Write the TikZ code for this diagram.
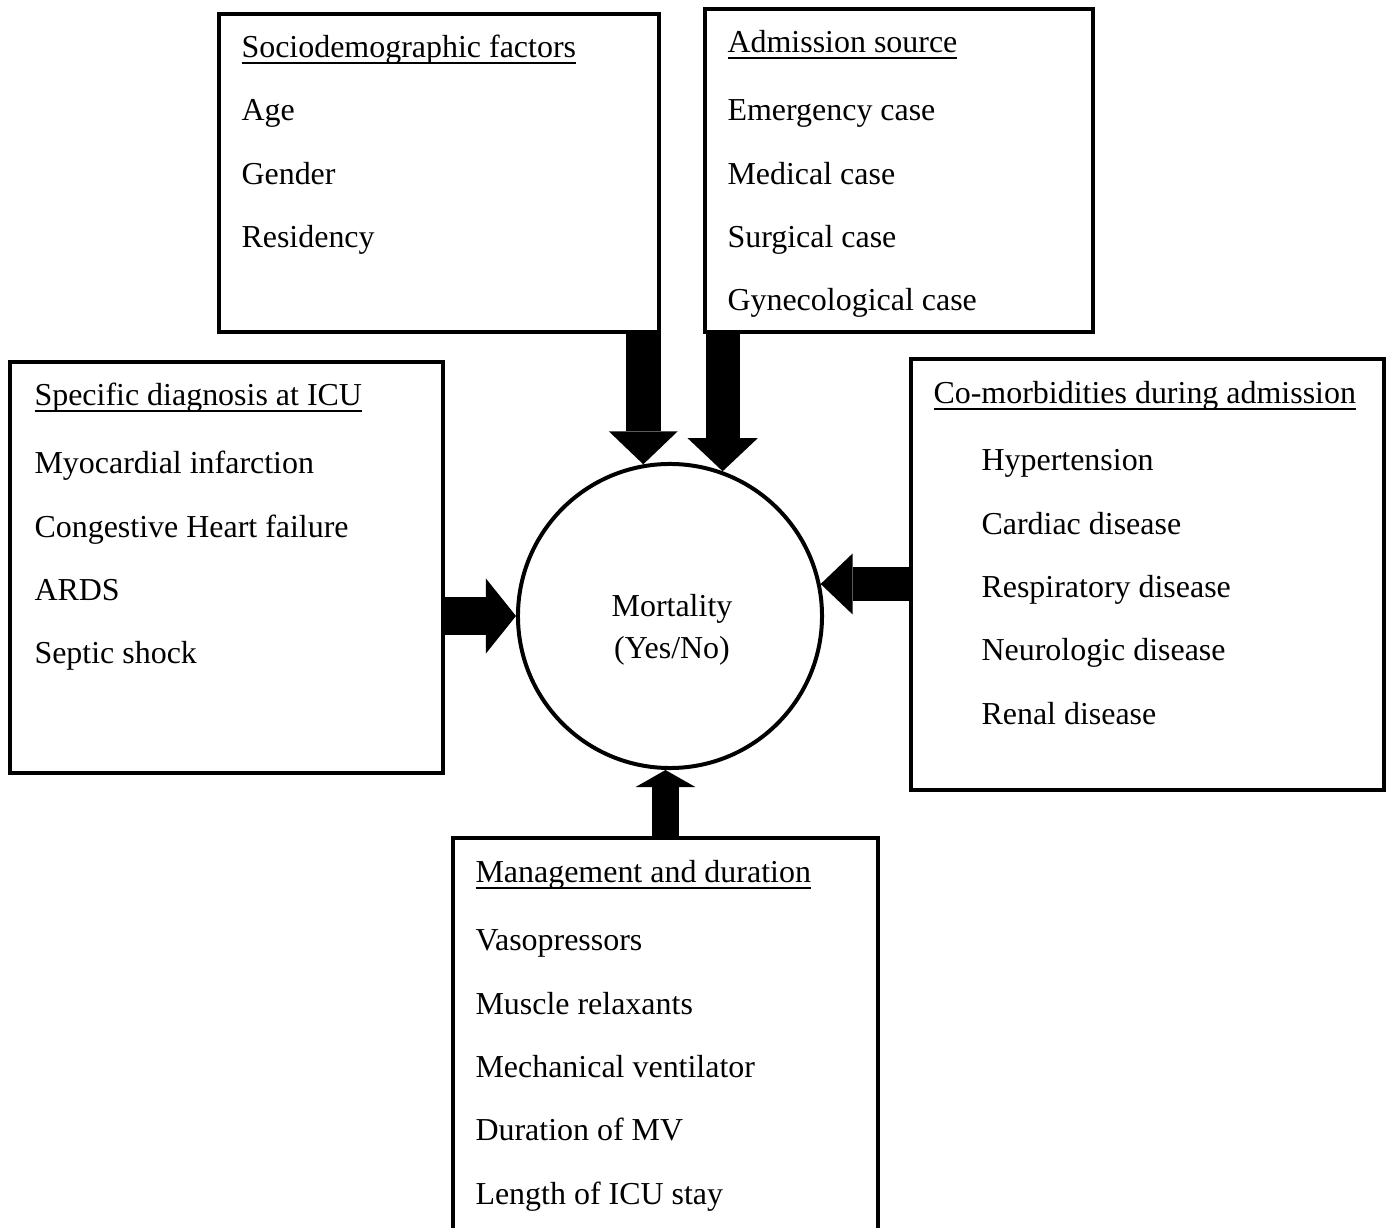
\documentclass[tikz,border=0pt]{standalone}
\usepackage{fontspec}
\setmainfont{Liberation Serif}
\usetikzlibrary{arrows.meta}
\newlength{\ulwd}
\newcommand{\uln}[1]{\settowidth{\ulwd}{#1}\rlap{\rule[-2.3pt]{\ulwd}{0.7pt}}#1}

\begin{document}
\begin{tikzpicture}[x=0.0132cm, y=-0.0132cm,
  every node/.style={font=\fontsize{12pt}{14pt}\selectfont},
  box/.style={draw, line width=1.8pt, rectangle, inner sep=0pt},
  txt/.style={anchor=base west, inner sep=0pt},
  fat/.style n args={3}{line width=#1pt,
    -{Triangle[length=#3pt, width=#2pt, line width=0pt]}}]
  \useasboundingbox (0,0) rectangle (1386,1228);
  % Kästen
  \node[box, minimum width=5.808cm, minimum height=4.198cm] (socio) at (439,173) {};
  \node[box, minimum width=5.122cm, minimum height=4.264cm] (adm) at (899,170.5) {};
  \node[box, minimum width=5.716cm, minimum height=5.425cm] (spec) at (226.5,567.5) {};
  \node[box, minimum width=6.244cm, minimum height=5.689cm] (comorb) at (1147.5,574.5) {};
  \node[box, minimum width=5.61cm, minimum height=5.438cm] (manag) at (665.5,1044) {};
  \node[draw, circle, line width=1.5pt, minimum size=4.013cm, inner sep=0pt] (mort) at (670,616) {};
  \node[align=center, inner sep=0pt, font=\fontsize{12pt}{15.8pt}\selectfont] (mort-t) at (672,630) {Mortality\\(Yes/No)};
  % Texte
  \node[txt] (socio-t) at (241,58) {\uln{Sociodemographic factors}};
  \foreach \s [count=\i] in {Age, Gender, Residency}
    \node[txt] (socio-\i) at (241,{57.7+63.3*\i}) {\s};
  \node[txt] (adm-t) at (727,53) {\uln{Admission source}};
  \foreach \s [count=\i] in {Emergency case, Medical case, Surgical case, Gynecological case}
    \node[txt] (adm-\i) at (727,{57.7+63.3*\i}) {\s};
  \node[txt] (spec-t) at (34,406) {\uln{Specific diagnosis at ICU}};
  \foreach \s [count=\i] in {Myocardial infarction, Congestive Heart failure, ARDS, Septic shock}
    \node[txt] (spec-\i) at (34,{410.7+63.3*\i}) {\s};
  \node[txt] (comorb-t) at (933,404) {\uln{Co-morbidities during admission}};
  \foreach \s [count=\i] in {Hypertension, Cardiac disease, Respiratory disease, Neurologic disease, Renal disease}
    \node[txt] (comorb-\i) at (981,{407.7+63.3*\i}) {\s};
  \node[txt] (manag-t) at (475,883) {\uln{Management and duration}};
  \foreach \s [count=\i] in {Vasopressors, Muscle relaxants, Mechanical ventilator, Duration of MV, Length of ICU stay}
    \node[txt] (manag-\i) at (475,{887.7+63.3*\i}) {\s};
  % Pfeile
  \draw[fat={13.1}{25.9}{12.4}] (socio.south -| mort.100) -- (mort.100);
  \draw[fat={12.8}{26.3}{12.4}] (adm.south -| mort.70) -- (mort.70);
  \draw[fat={13.9}{28.2}{11.3}] (spec.east |- mort.west) -- (mort.west);
  \draw[fat={12.8}{22.9}{12.0}] (comorb.west |- mort.12.5) -- (mort.12.5);
  \draw[fat={10.5}{22.5}{6.4}] (manag.north) -- (manag.north |- mort.south);
\end{tikzpicture}
\end{document}
